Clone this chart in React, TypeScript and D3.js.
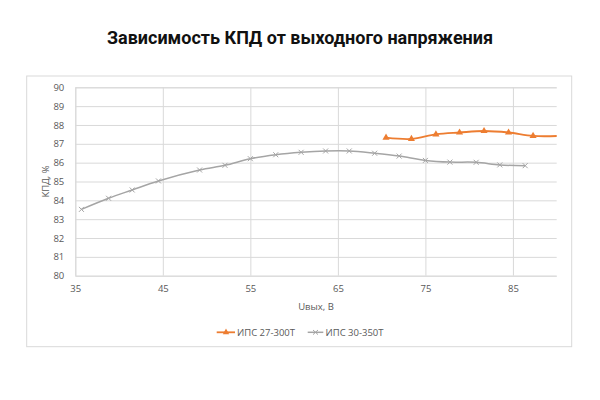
import { useEffect, useRef } from 'react'
import { axisBottom, axisLeft, curveCatmullRom, line, scaleLinear, select, symbol, symbolTriangle } from 'd3'

const title = 'Зависимость КПД от выходного напряжения'
const xLabel = 'Uвых, В'
const yLabel = 'КПД, %'

const xTicks = [35, 45, 55, 65, 75, 85]
const yTicks = [80, 81, 82, 83, 84, 85, 86, 87, 88, 89, 90]

const seriesNames = ['ИПС 27-300Т', 'ИПС 30-350Т']

// ИПС 27-300Т (last point lies past the axis end, line is clipped)
const ips27x = [70.5, 73.4, 76.2, 78.9, 81.7, 84.5, 87.3, 90.3]
const ips27y = [87.33, 87.26, 87.5, 87.6, 87.68, 87.6, 87.42, 87.42]

// ИПС 30-350Т
const ips30x = [35.7, 38.8, 41.5, 44.5, 49.2, 52.1, 55.0, 57.9, 60.8, 63.6, 66.3, 69.2, 72.0, 75.0, 77.8, 80.8, 83.5, 86.4]
const ips30y = [83.52, 84.11, 84.55, 85.03, 85.61, 85.86, 86.21, 86.42, 86.55, 86.62, 86.62, 86.5, 86.35, 86.12, 86.03, 86.02, 85.88, 85.84]

const dim = {
  width: 600,
  height: 400,
  left: 75.3,
  right: 556.7,
  top: 87.3,
  bottom: 275.7,
}

const App = () => {
  const ref = useRef<SVGSVGElement | null>(null)

  useEffect(() => {
    const svg = select(ref.current)
    svg.selectAll('*').remove()

    const x = scaleLinear().domain([35, 90]).range([dim.left, dim.right])
    const y = scaleLinear().domain([80, 90]).range([dim.bottom, dim.top])

    const font = '"Open Sans", sans-serif'

    // title
    svg.append('text')
      .attr('x', 300).attr('y', 44)
      .attr('text-anchor', 'middle')
      .attr('font-family', 'Roboto, sans-serif')
      .attr('font-weight', 700)
      .attr('font-size', 18)
      .attr('fill', '#111')
      .text(title)

    // outer frame
    svg.append('rect')
      .attr('x', 26.7).attr('y', 76)
      .attr('width', 545).attr('height', 270.7)
      .attr('fill', 'white')
      .attr('stroke', '#d9d9d9')
      .attr('stroke-width', 1)

    // horizontal grid + y labels
    const yg = svg.append('g')
      .attr('transform', `translate(${dim.left},0)`)
      .call(axisLeft(y).tickValues(yTicks).tickSize(-(dim.right - dim.left)).tickPadding(11))
    yg.select('.domain').attr('stroke', '#d9d9d9')
    yg.selectAll('.tick line').attr('stroke', '#d9d9d9')
    yg.selectAll('.tick text').attr('fill', '#595959').attr('font-size', 9.5).attr('font-family', font)

    // vertical grid + x labels
    const xg = svg.append('g')
      .attr('transform', `translate(0,${dim.bottom})`)
      .call(axisBottom(x).tickValues(xTicks).tickSize(-(dim.bottom - dim.top)).tickPadding(10))
    xg.select('.domain').remove()
    xg.selectAll('.tick line').attr('stroke', '#d9d9d9')
    xg.selectAll('.tick text').attr('fill', '#595959').attr('font-size', 9.5).attr('font-family', font)

    // axis titles
    svg.append('text')
      .attr('x', (dim.left + dim.right) / 2).attr('y', 309.5)
      .attr('text-anchor', 'middle')
      .attr('font-family', font).attr('font-size', 9.5).attr('fill', '#595959')
      .text(xLabel)
    svg.append('text')
      .attr('transform', `translate(48.5,${(dim.top + dim.bottom) / 2}) rotate(-90)`)
      .attr('text-anchor', 'middle')
      .attr('font-family', font).attr('font-size', 9.5).attr('fill', '#595959')
      .text(yLabel)

    svg.append('clipPath').attr('id', 'plotclip')
      .append('rect')
      .attr('x', dim.left).attr('y', dim.top - 10)
      .attr('width', dim.right - dim.left).attr('height', dim.bottom - dim.top + 10)

    const smooth = line().curve(curveCatmullRom.alpha(0.5))
    const plot = svg.append('g').attr('clip-path', 'url(#plotclip)')

    // gray series
    const grayPts: [number, number][] = ips30x.map((v, i) => [x(v), y(ips30y[i])])
    plot.append('path')
      .attr('d', smooth(grayPts))
      .attr('fill', 'none').attr('stroke', '#a5a5a5').attr('stroke-width', 1.5)
    plot.selectAll('path.xm')
      .data(grayPts)
      .enter()
      .append('path')
      .attr('class', 'xm')
      .attr('d', d => `M${d[0] - 2.5},${d[1] - 2.5}L${d[0] + 2.5},${d[1] + 2.5}M${d[0] - 2.5},${d[1] + 2.5}L${d[0] + 2.5},${d[1] - 2.5}`)
      .attr('stroke', '#a5a5a5').attr('stroke-width', 1).attr('fill', 'none')

    // orange series
    const orangePts: [number, number][] = ips27x.map((v, i) => [x(v), y(ips27y[i])])
    plot.append('path')
      .attr('d', smooth(orangePts))
      .attr('fill', 'none').attr('stroke', '#ed7d31').attr('stroke-width', 1.8)
    plot.selectAll('path.tm')
      .data(orangePts.filter(d => d[0] <= dim.right))
      .enter()
      .append('path')
      .attr('class', 'tm')
      .attr('transform', d => `translate(${d[0]},${d[1]})`)
      .attr('d', symbol().type(symbolTriangle).size(22)()!)
      .attr('fill', '#ed7d31')

    // legend
    const ly = 332.3
    const lg = svg.append('g')
    lg.append('line').attr('x1', 216.7).attr('x2', 235).attr('y1', ly).attr('y2', ly)
      .attr('stroke', '#ed7d31').attr('stroke-width', 1.8)
    lg.append('path').attr('transform', `translate(226,${ly})`)
      .attr('d', symbol().type(symbolTriangle).size(18)()!).attr('fill', '#ed7d31')
    lg.append('text').attr('x', 237).attr('y', ly).attr('dy', '0.35em')
      .attr('font-family', font).attr('font-size', 9.5).attr('fill', '#595959')
      .text(seriesNames[0])
    lg.append('line').attr('x1', 307.7).attr('x2', 323.3).attr('y1', ly).attr('y2', ly)
      .attr('stroke', '#a5a5a5').attr('stroke-width', 1.5)
    lg.append('path')
      .attr('d', `M313,${ly - 2.3}L318,${ly + 2.3}M313,${ly + 2.3}L318,${ly - 2.3}`)
      .attr('stroke', '#a5a5a5').attr('stroke-width', 1)
    lg.append('text').attr('x', 325.5).attr('y', ly).attr('dy', '0.35em')
      .attr('font-family', font).attr('font-size', 9.5).attr('fill', '#595959')
      .text(seriesNames[1])
  }, [])

  return (
    <svg
      ref={ref}
      width={dim.width}
      height={dim.height}
      style={{ position: 'absolute', left: 0, top: 0, background: 'white' }}
    />
  )
}

export default App
